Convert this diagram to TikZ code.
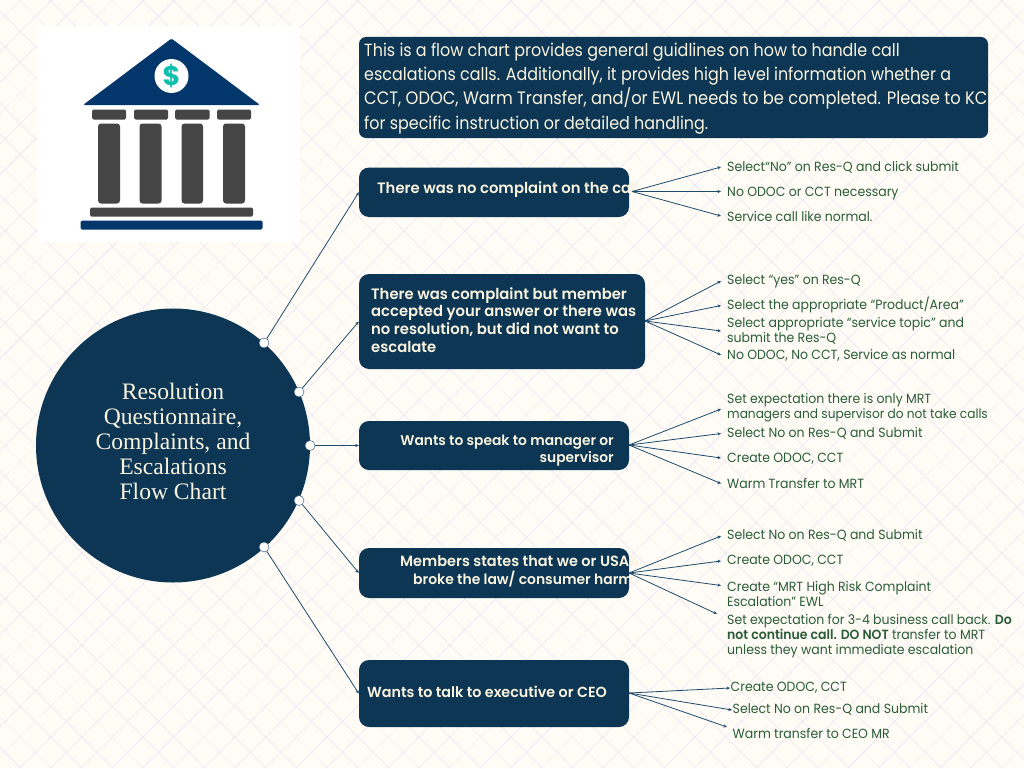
\documentclass[tikz,border=0pt]{standalone}
\usepackage{fontspec}
\setmainfont{Poppins}
\newfontfamily\itemfont[FakeStretch=0.94]{Poppins}
\newfontfamily\topfont[FakeStretch=0.905]{Poppins}
\newfontfamily\boxfont[FakeStretch=0.98]{Poppins SemiBold}
\newfontfamily\boldfont[FakeStretch=0.94]{Poppins SemiBold}
\newfontfamily\titlefont{Liberation Serif}
\usetikzlibrary{arrows.meta}
\definecolor{paper}{HTML}{FFFCF5}
\definecolor{lat}{HTML}{E9E3F6}
\definecolor{latf}{HTML}{F4F0F5}
\definecolor{navy}{HTML}{0C3654}
\definecolor{cream}{HTML}{FFFCF5}
\definecolor{textcream}{HTML}{FAF4DF}
\definecolor{leaf}{HTML}{2A5C38}
\definecolor{wire}{HTML}{1F4A6E}
\definecolor{roof}{HTML}{03366A}
\definecolor{stone}{HTML}{454545}
\definecolor{teal}{HTML}{0CC0AE}
\tikzset{
  box/.style={fill=navy,rounded corners=10pt,draw=none},
  boxtext/.style={font=\boxfont\fontsize{14.6}{17.6}\selectfont,text=textcream,inner sep=0pt,align=left},
  item/.style={font=\itemfont\fontsize{13.3}{15}\selectfont,text=leaf,inner sep=0pt,anchor=west,align=left},
  wirel/.style={draw=wire,line width=0.8pt,-{Stealth[length=3.6pt,width=3.2pt]}},
  dot/.style={circle,fill=white,draw=wire,line width=0.4pt,minimum size=10pt,inner sep=0pt},
  stoneblock/.style={fill=stone,rounded corners=1.5pt},
  roofblock/.style={fill=roof,rounded corners=1.5pt},
}
\begin{document}
\begin{tikzpicture}[x=1pt,y=-1pt]
\useasboundingbox (0,0) rectangle (1024,768);
\fill[paper] (0,0) rectangle (1024,768);
\begin{scope}
\clip (0,0) rectangle (1024,768);
\foreach \k in {-30,...,60}{
  \pgfmathsetmacro{\s}{21.26+30.67*\k}
  \pgfmathtruncatemacro{\m}{mod(\k+300,3)}
  \ifnum\m=0 \def\cc{latf}\else\def\cc{lat}\fi
  \draw[\cc,line width=0.55pt] (\s,0) -- ({\s-768},768);
  \pgfmathsetmacro{\d}{-594+30.67*\k+30.67*8}
  \ifnum\m=0 \def\cd{latf}\else\def\cd{lat}\fi
  \draw[\cd,line width=0.55pt] (\d,0) -- ({\d+768},768);
}
\end{scope}
% logo
\fill[white] (37,26) rectangle (300,242);
\fill[roof,rounded corners=1.5pt] (171.5,38.5) -- (260,105) -- (83,105) -- cycle;
\node[circle,fill=white,minimum size=34pt,inner sep=0pt] (coin) at (171.5,76) {};
\node[text=teal,inner sep=0pt,font=\fontsize{27}{27}\selectfont\bfseries] (dollar) at (171.5,76) {\$};
\foreach \a/\b in {92/126,134/168,175/209.5,217/251} \fill[stoneblock] (\a,109.5) rectangle (\b,119.5);
\foreach \a/\b in {98/120,139.5/161.5,181.5/203,223/245} \fill[stone,rounded corners=3pt] (\a,123.5) rectangle (\b,203.5);
\fill[stoneblock] (90,207.5) rectangle (253,216.5);
\fill[roofblock] (80.5,220.5) rectangle (262.5,229.5);
% top text
\node[box,minimum width=629pt,minimum height=101pt,inner sep=0pt,rounded corners=7pt] (intro) at (673.5,87.5) {};
\node[font=\topfont\fontsize{17.6}{24.3}\selectfont,text=textcream,inner sep=0pt,anchor=west,align=left] (introtext) at (364,88.5) {This is a flow chart provides general guidlines on how to handle call\\escalations calls. Additionally, it provides high level information whether a\\{\fontsize{18}{24.3}\selectfont CCT, ODOC, Warm Transfer, and/or EWL needs to be completed. Please to KC}\\for specific instruction or detailed handling.};
% circle
\node[circle,fill=navy,minimum size=274pt,inner sep=0pt] (hub) at (173,445.5) {};
\node[font=\titlefont\fontsize{23.6}{25}\selectfont,text=textcream,align=center,inner sep=0pt] (title) at (173,441.5) {Resolution\\Questionnaire,\\Complaints, and\\Escalations\\Flow Chart};
% boxes
\node[box,minimum width=270pt,minimum height=49.5pt,inner sep=0pt] (b1) at (494,192.25) {};
\node[box,minimum width=286pt,minimum height=95pt,inner sep=0pt] (b2) at (502,321.5) {};
\node[box,minimum width=270pt,minimum height=49pt,inner sep=0pt] (b3) at (494,445.5) {};
\node[box,minimum width=270pt,minimum height=50pt,inner sep=0pt] (b4) at (494,573) {};
\node[box,minimum width=270pt,minimum height=67pt,inner sep=0pt] (b5) at (494,693.5) {};
\node[boxtext,anchor=west,font=\boxfont\fontsize{15.1}{17.6}\selectfont,text=textcream] (t1) at (377,189.5) {There was no complaint on the call};
\node[boxtext,anchor=west,font=\boxfont\fontsize{15.1}{17.9}\selectfont] (t2) at (371,320) {There was complaint but member\\accepted your answer or there was\\no resolution, but did not want to\\escalate};
\node[boxtext,anchor=east,align=right,font=\boxfont\fontsize{14.1}{17.6}\selectfont] (t3) at (614,450.5) {Wants to speak to manager or\\supervisor\hspace{7pt}};
\node[boxtext,anchor=west,font=\boxfont\fontsize{14.8}{17.6}\selectfont] (t4) at (400,571) {Members states that we or USAA\\\hspace*{13pt}{\fontsize{14.2}{17.6}\selectfont broke the law/ consumer harm}};
\node[boxtext,anchor=west] (t5) at (367,692) {Wants to talk to executive or CEO};
% items
\node[item] (i11) at (727,167.5) {Select“No” on Res-Q and click submit};
\node[item] (i12) at (727,193.5) {No ODOC or CCT necessary};
\node[item] (i13) at (727,216) {Service call like normal.};
\node[item] (i21) at (727,281) {Select “yes” on Res-Q};
\node[item] (i22) at (727,305) {Select the appropriate “Product/Area”};
\node[item] (i23) at (727,331) {Select appropriate “service topic” and\\submit the Res-Q};
\node[item] (i24) at (727,355) {No ODOC, No CCT, Service as normal};
\node[item] (i31) at (727,407.5) {Set expectation there is only MRT\\{\fontsize{12.95}{15}\selectfont managers and supervisor do not take calls}};
\node[item] (i32) at (727,433) {Select No on Res-Q and Submit};
\node[item] (i33) at (727,459) {Create ODOC, CCT};
\node[item] (i34) at (727,483.5) {Warm Transfer to MRT};
\node[item] (i41) at (727,535) {Select No on Res-Q and Submit};
\node[item] (i42) at (727,561) {Create ODOC, CCT};
\node[item] (i43) at (727,593.5) {Create “MRT High Risk Complaint\\Escalation” EWL};
\node[item] (i44) at (727,636.5) {Set expectation for 3-4 business call back. {\boldfont Do}\\{\boldfont not continue call. DO NOT} transfer to MRT\\unless they want immediate escalation};
\node[item] (i51) at (730.5,688) {Create ODOC, CCT};
\node[item] (i52) at (732.5,709) {Select No on Res-Q and Submit};
\node[item] (i53) at (732.5,733) {Warm transfer to CEO MR};
% hub dots
\node[dot] (d1) at (264,343) {};
\node[dot] (d2) at (299,392) {};
\node[dot] (d3) at (310,445.5) {};
\node[dot] (d4) at (299,500.5) {};
\node[dot] (d5) at (264,547) {};
% left connectors
\draw[wirel] (d1) -- (b1.west);
\draw[wirel] (d2) -- (b2.west);
\draw[wirel] (d3) -- (b3.west);
\draw[wirel] (d4) -- (b4.west);
\draw[wirel] (d5) -- (b5.west);
% right connector ends
\coordinate (s1) at (632,191.5);
\coordinate (s2) at (645,321);
\coordinate (s3) at (629,445);
\coordinate (s4) at (629,573);
\coordinate (s5) at (629,693);
\coordinate (e11) at (721,167);
\coordinate (e12) at (721,191.5);
\coordinate (e13) at (721,216);
\coordinate (e21) at (721,281);
\coordinate (e22) at (721,305.5);
\coordinate (e23) at (721,331);
\coordinate (e24) at (721,355);
\coordinate (e31) at (721,409);
\coordinate (e32) at (721,433.5);
\coordinate (e33) at (721,458);
\coordinate (e34) at (721,483.5);
\coordinate (e41) at (721,536);
\coordinate (e42) at (721,561);
\coordinate (e43) at (721,585.5);
\coordinate (e44) at (717,614);
\coordinate (e51) at (730,688);
\coordinate (e52) at (732,710);
\coordinate (e53) at (727,727);
\foreach \g/\t in {1/1,1/2,1/3,2/1,2/2,2/3,2/4,3/1,3/2,3/3,3/4,4/1,4/2,4/3,4/4,5/1,5/2,5/3}
  \draw[wirel] (s\g) -- (e\g\t);
\end{tikzpicture}
\end{document}
